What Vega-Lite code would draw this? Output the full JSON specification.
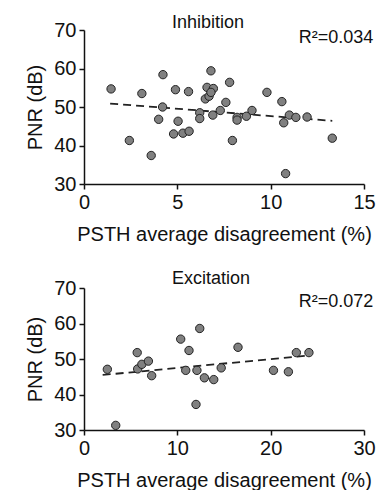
{
  "$schema": "https://vega.github.io/schema/vega-lite/v6.json",
  "background": "white",
  "padding": {"left": 25, "top": 14, "right": 10, "bottom": 0},
  "config": {
    "view": {"stroke": null},
    "font": "Liberation Sans",
    "axis": {
      "grid": false,
      "domainColor": "#111",
      "domainWidth": 1.5,
      "tickColor": "#111",
      "tickWidth": 1.5,
      "tickSize": 5,
      "labelFont": "Liberation Sans",
      "labelFontSize": 20,
      "labelColor": "#111",
      "labelOverlap": false,
      "labelFlush": false,
      "titleFont": "Liberation Sans",
      "titleFontSize": 20,
      "titleFontWeight": "normal",
      "titleColor": "#111",
      "labelPadding": 3
    }
  },
  "datasets": {
    "inh": [
      {"x": 1.45, "y": 54.7}, {"x": 2.43, "y": 41.3}, {"x": 3.1, "y": 53.5}, {"x": 3.6, "y": 37.4},
      {"x": 4.0, "y": 46.8}, {"x": 4.23, "y": 58.4}, {"x": 4.21, "y": 50.0}, {"x": 4.8, "y": 43.0},
      {"x": 4.9, "y": 54.5}, {"x": 5.04, "y": 46.3}, {"x": 5.3, "y": 43.2}, {"x": 5.63, "y": 43.7},
      {"x": 5.6, "y": 54.0}, {"x": 6.2, "y": 48.5}, {"x": 6.2, "y": 47.0}, {"x": 6.5, "y": 52.1},
      {"x": 6.59, "y": 55.1}, {"x": 6.7, "y": 52.8}, {"x": 6.93, "y": 54.8}, {"x": 6.8, "y": 53.8},
      {"x": 6.8, "y": 59.4}, {"x": 6.9, "y": 47.9}, {"x": 7.3, "y": 49.1}, {"x": 7.6, "y": 51.2},
      {"x": 7.8, "y": 56.4}, {"x": 7.95, "y": 41.3}, {"x": 8.2, "y": 47.3}, {"x": 8.2, "y": 46.6},
      {"x": 8.7, "y": 47.6}, {"x": 9.0, "y": 49.1}, {"x": 9.8, "y": 53.8}, {"x": 10.6, "y": 51.4},
      {"x": 10.7, "y": 45.9}, {"x": 10.8, "y": 32.7}, {"x": 11.0, "y": 47.9}, {"x": 11.35, "y": 47.3},
      {"x": 11.95, "y": 47.4}, {"x": 13.3, "y": 41.9}
    ],
    "inhTrend": [{"x": 1.4, "y": 50.9}, {"x": 13.3, "y": 46.4}],
    "exc": [
      {"x": 2.5, "y": 47.1}, {"x": 3.4, "y": 31.3}, {"x": 5.7, "y": 51.8}, {"x": 5.75, "y": 47.2},
      {"x": 6.2, "y": 48.5}, {"x": 6.9, "y": 49.4}, {"x": 7.25, "y": 45.3}, {"x": 10.36, "y": 55.6},
      {"x": 10.9, "y": 46.8}, {"x": 11.25, "y": 52.4}, {"x": 12.0, "y": 37.2}, {"x": 12.1, "y": 46.8},
      {"x": 12.4, "y": 58.6}, {"x": 12.9, "y": 44.7}, {"x": 13.9, "y": 44.2}, {"x": 14.7, "y": 47.5},
      {"x": 16.5, "y": 53.3}, {"x": 20.3, "y": 46.8}, {"x": 21.9, "y": 46.4}, {"x": 22.75, "y": 51.8},
      {"x": 24.1, "y": 51.8}
    ],
    "excTrend": [{"x": 2.0, "y": 45.5}, {"x": 24.2, "y": 51.0}]
  },
  "vconcat": [
    {
      "width": 280,
      "height": 154,
      "layer": [
        {
          "data": {"name": "inhTrend"},
          "mark": {"type": "line", "color": "#222", "strokeWidth": 1.8, "strokeDash": [8, 5]},
          "encoding": {
            "x": {"field": "x", "type": "quantitative", "scale": {"domain": [0, 15]}, "axis": {"values": [0, 5, 10, 15], "tickCount": 4, "labelOverlap": false, "title": "PSTH average disagreement (%)", "titlePadding": 12}},
            "y": {"field": "y", "type": "quantitative", "scale": {"domain": [30, 70]}, "axis": {"values": [30, 40, 50, 60, 70], "tickCount": 5, "labelOverlap": false, "title": "PNR (dB)", "titlePadding": 8}}
          }
        },
        {
          "data": {"name": "inh"},
          "mark": {"type": "point", "filled": true, "fill": "#808080", "stroke": "#222", "strokeWidth": 1, "size": 70, "opacity": 1},
          "encoding": {
            "x": {"field": "x", "type": "quantitative", "scale": {"domain": [0, 15]}},
            "y": {"field": "y", "type": "quantitative", "scale": {"domain": [30, 70]}}
          }
        },
        {
          "data": {"values": [{"label": "Inhibition"}]},
          "mark": {"type": "text", "align": "center", "baseline": "alphabetic", "fontSize": 18, "color": "#111"},
          "encoding": {
            "text": {"field": "label"},
            "x": {"datum": 6.64, "type": "quantitative", "scale": {"domain": [0, 15]}},
            "y": {"datum": 70.5, "type": "quantitative", "scale": {"domain": [30, 70]}}
          }
        },
        {
          "data": {"values": [{"label": "R²=0.034"}]},
          "mark": {"type": "text", "align": "right", "baseline": "alphabetic", "fontSize": 18, "color": "#111"},
          "encoding": {
            "text": {"field": "label"},
            "x": {"datum": 15.5, "type": "quantitative", "scale": {"domain": [0, 15]}},
            "y": {"datum": 66.6, "type": "quantitative", "scale": {"domain": [30, 70]}}
          }
        }
      ]
    },
    {
      "width": 280,
      "height": 142,
      "layer": [
        {
          "data": {"name": "excTrend"},
          "mark": {"type": "line", "color": "#222", "strokeWidth": 1.8, "strokeDash": [8, 5]},
          "encoding": {
            "x": {"field": "x", "type": "quantitative", "scale": {"domain": [0, 30]}, "axis": {"values": [0, 10, 20, 30], "tickCount": 4, "labelOverlap": false, "title": "PSTH average disagreement (%)", "titlePadding": 12}},
            "y": {"field": "y", "type": "quantitative", "scale": {"domain": [30, 70]}, "axis": {"values": [30, 40, 50, 60, 70], "tickCount": 5, "labelOverlap": false, "title": "PNR (dB)", "titlePadding": 8}}
          }
        },
        {
          "data": {"name": "exc"},
          "mark": {"type": "point", "filled": true, "fill": "#808080", "stroke": "#222", "strokeWidth": 1, "size": 70, "opacity": 1},
          "encoding": {
            "x": {"field": "x", "type": "quantitative", "scale": {"domain": [0, 30]}},
            "y": {"field": "y", "type": "quantitative", "scale": {"domain": [30, 70]}}
          }
        },
        {
          "data": {"values": [{"label": "Excitation"}]},
          "mark": {"type": "text", "align": "center", "baseline": "alphabetic", "fontSize": 18, "color": "#111"},
          "encoding": {
            "text": {"field": "label"},
            "x": {"datum": 13.6, "type": "quantitative", "scale": {"domain": [0, 30]}},
            "y": {"datum": 71.1, "type": "quantitative", "scale": {"domain": [30, 70]}}
          }
        },
        {
          "data": {"values": [{"label": "R²=0.072"}]},
          "mark": {"type": "text", "align": "right", "baseline": "alphabetic", "fontSize": 18, "color": "#111"},
          "encoding": {
            "text": {"field": "label"},
            "x": {"datum": 31, "type": "quantitative", "scale": {"domain": [0, 30]}},
            "y": {"datum": 64.6, "type": "quantitative", "scale": {"domain": [30, 70]}}
          }
        }
      ]
    }
  ],
  "spacing": 26
}
